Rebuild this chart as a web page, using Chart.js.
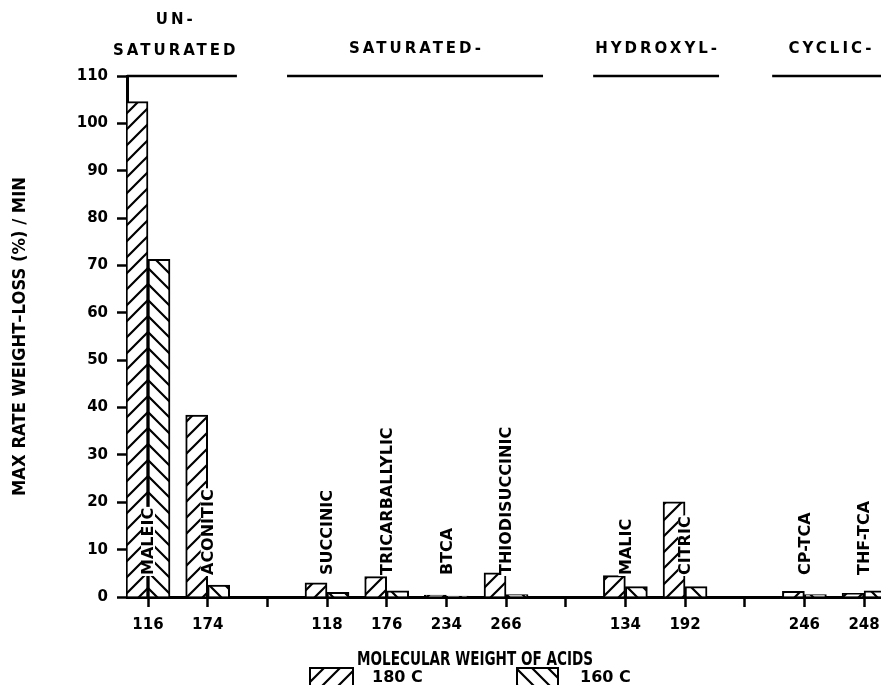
<!DOCTYPE html>
<html>
<head>
<meta charset="utf-8">
<script src="https://cdn.jsdelivr.net/npm/chart.js@4.4.1/dist/chart.umd.min.js"></script>
<style>
  html, body { margin: 0; padding: 0; background: #fff; overflow: hidden; }
  canvas { display: block; }
</style>
</head>
<body>
<canvas id="myChart" width="881" height="685"></canvas>
<script>
// acids, their molecular weights and where they sit on the axis (gaps split the groups)
const acids = ['MALEIC', 'ACONITIC', 'SUCCINIC', 'TRICARBALLYLIC', 'BTCA', 'THIODISUCCINIC', 'MALIC', 'CITRIC', 'CP-TCA', 'THF-TCA'];
const molWeights = ['116', '174', '118', '176', '234', '266', '134', '192', '246', '248'];
const slots = [0, 1, 3, 4, 5, 6, 8, 9, 11, 12];

// max rate of weight loss (%/min)
const rate180 = [104.6, 38.4, 3.0, 4.3, 0.4, 5.1, 4.5, 20.1, 1.2, 0.8];
const rate160 = [71.3, 2.5, 1.0, 1.3, 0.2, 0.5, 2.2, 2.2, 0.5, 1.3];

const yTicks = [0, 10, 20, 30, 40, 50, 60, 70, 80, 90, 100, 110];

const groupNames = [['UN-', 'SATURATED'], ['SATURATED-'], ['HYDROXYL-'], ['CYCLIC-']];

const ctx = document.getElementById('myChart').getContext('2d');
const FONT = 'DejaVu Sans';

function hatch(dir) {
    const c = document.createElement('canvas');
    c.width = 16; c.height = 16;
    const g = c.getContext('2d');
    g.fillStyle = '#fff';
    g.fillRect(0, 0, 16, 16);
    g.strokeStyle = '#000';
    g.lineWidth = 2.2;
    g.beginPath();
    if (dir === '/') {
        g.moveTo(-1, 17); g.lineTo(17, -1);
        g.moveTo(-1, 1); g.lineTo(1, -1);
        g.moveTo(15, 17); g.lineTo(17, 15);
    } else {
        g.moveTo(-1, 7); g.lineTo(9, 17);
        g.moveTo(7, -1); g.lineTo(17, 9);
    }
    g.stroke();
    return ctx.createPattern(c, 'repeat');
}

const xMin = -0.352, xMax = 12.284;
const groupSpans = [
    { from: xMin, to: 1.49, mid: 0.44 },
    { from: 2.33, to: 6.62 },
    { from: 7.46, to: 9.57 },
    { from: 10.46, to: xMax, mid: 11.43 }
];

function squeezed(c, text, cx, cy, font, width) {
    c.font = font;
    const w = c.measureText(text).width;
    c.save();
    c.translate(cx, cy);
    c.scale(width / w, 1);
    c.textAlign = 'center';
    c.textBaseline = 'middle';
    c.fillText(text, 0, 0);
    c.restore();
}

const annotations = {
    id: 'annotations',
    afterDraw(chart) {
        const { ctx, scales: { x, y } } = chart;
        ctx.save();
        ctx.fillStyle = '#000';
        ctx.strokeStyle = '#000';

        // group headers
        const top = y.getPixelForValue(110);
        ctx.lineWidth = 2.5;
        ctx.font = 'bold 15px ' + FONT;
        ctx.letterSpacing = '3px';
        ctx.textAlign = 'center';
        ctx.textBaseline = 'middle';
        groupSpans.forEach((g, i) => {
            const x0 = x.getPixelForValue(g.from), x1 = x.getPixelForValue(g.to);
            ctx.beginPath();
            ctx.moveTo(x0, top);
            ctx.lineTo(x1, top);
            ctx.stroke();
            const cx = g.mid !== undefined ? x.getPixelForValue(g.mid) : (x0 + x1) / 2;
            const lines = groupNames[i];
            if (lines.length === 2) {
                ctx.fillText(lines[0], cx + 1.5, 20);
                ctx.fillText(lines[1], cx + 1.5, 51);
            } else {
                ctx.fillText(lines[0], cx + 1.5, 49);
            }
        });
        ctx.letterSpacing = '0px';

        // acid names, vertical
        const base = y.getPixelForValue(0) - 22;
        ctx.font = 'bold 16px ' + FONT;
        ctx.textAlign = 'left';
        acids.forEach((name, i) => {
            const px = x.getPixelForValue(slots[i]);
            ctx.save();
            ctx.translate(px, base);
            ctx.rotate(-Math.PI / 2);
            const w = ctx.measureText(name).width;
            ctx.fillStyle = '#fff';
            ctx.fillRect(-1, -7, w + 2, 14);
            ctx.fillStyle = '#000';
            ctx.fillText(name, 0, 1);
            ctx.restore();
        });

        // axis titles
        ctx.save();
        ctx.translate(20, (y.top + y.bottom) / 2);
        ctx.rotate(-Math.PI / 2);
        squeezed(ctx, 'MAX RATE WEIGHT\u2013LOSS (%) / MIN', 0, 0, 'bold 18px ' + FONT, 319);
        ctx.restore();
        squeezed(ctx, 'MOLECULAR WEIGHT OF ACIDS', 475, 660, 'bold 19px ' + FONT, 236);

        // legend
        const boxes = [[310, 43, 372], [517, 41, 580]];
        chart.data.datasets.forEach((ds, i) => {
            const [bx, bw, tx] = boxes[i];
            ctx.fillStyle = ds.backgroundColor;
            ctx.fillRect(bx, 668, bw, 18);
            ctx.lineWidth = 2;
            ctx.strokeRect(bx, 668, bw, 18);
            ctx.fillStyle = '#000';
            ctx.font = 'bold 16px ' + FONT;
            ctx.textAlign = 'left';
            ctx.textBaseline = 'middle';
            ctx.fillText(ds.label, tx, 678);
        });
        ctx.restore();
    }
};

const slotTicks = Array.from({ length: 13 }, (_, i) => i);
const tickFont = { family: FONT, weight: 'bold', size: 15 };

new Chart(ctx, {
    type: 'bar',
    data: {
        datasets: [{
            label: '180 C',
            data: slots.map((s, i) => ({ x: s, y: rate180[i] })),
            backgroundColor: hatch('/'),
            borderColor: '#000',
            borderWidth: 2,
            barThickness: 22
        }, {
            label: '160 C',
            data: slots.map((s, i) => ({ x: s, y: rate160[i] })),
            backgroundColor: hatch('\\'),
            borderColor: '#000',
            borderWidth: 2,
            barThickness: 22
        }]
    },
    options: {
        responsive: false,
        animation: false,
        devicePixelRatio: 1,
        layout: { padding: { top: 76, left: 0, right: 0, bottom: 0 }, autoPadding: false },
        plugins: { legend: { display: false }, tooltip: { enabled: false } },
        scales: {
            x: {
                type: 'linear',
                min: xMin,
                max: xMax,
                offset: false,
                afterBuildTicks: s => { s.ticks = slotTicks.map(v => ({ value: v })); },
                afterFit: s => { s.height = 88; s.paddingLeft = 0; s.paddingRight = 0; },
                grid: { drawOnChartArea: false, offset: false, tickLength: 10, tickWidth: 2.5, tickColor: '#000' },
                border: { color: '#000', width: 3 },
                ticks: {
                    autoSkip: false,
                    maxRotation: 0,
                    padding: 9,
                    color: '#000',
                    font: tickFont,
                    callback: v => { const i = slots.indexOf(v); return i < 0 ? '' : molWeights[i]; }
                }
            },
            y: {
                min: 0,
                max: 110,
                afterBuildTicks: s => { s.ticks = yTicks.map(v => ({ value: v })); },
                afterFit: s => { s.width = 127; s.paddingTop = 0; s.paddingBottom = 0; },
                grid: { drawOnChartArea: false, tickLength: 10, tickWidth: 2.5, tickColor: '#000' },
                border: { color: '#000', width: 3 },
                ticks: { padding: 9, color: '#000', font: tickFont }
            }
        }
    },
    plugins: [annotations]
});
</script>
</body>
</html>
